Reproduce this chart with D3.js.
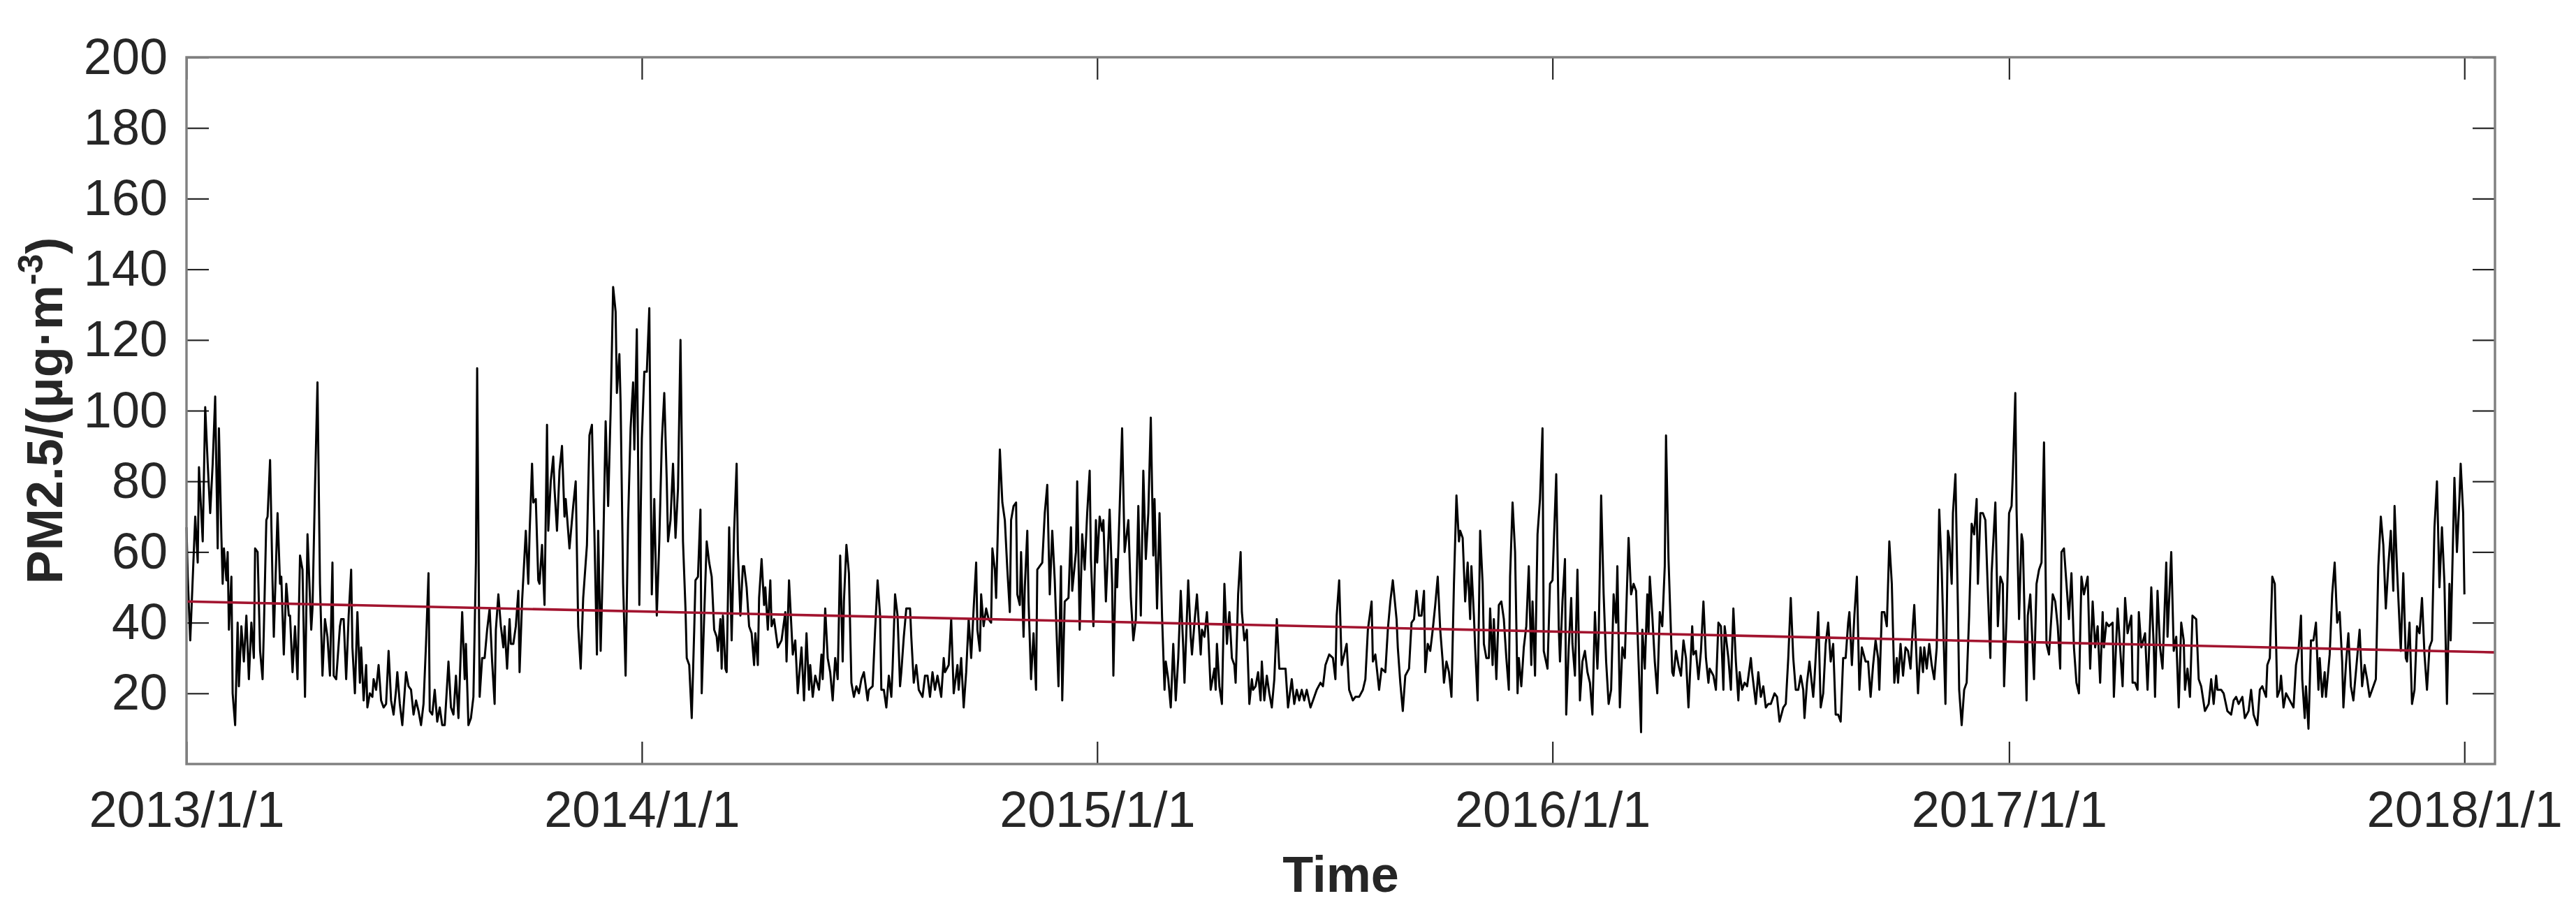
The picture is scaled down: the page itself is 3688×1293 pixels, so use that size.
<!DOCTYPE html>
<html>
<head>
<meta charset="utf-8">
<script src="https://cdn.jsdelivr.net/npm/d3@7"></script>
<style>
  html, body { margin: 0; padding: 0; background: #fff; }
  svg { display: block; font-family: 'Liberation Sans', Arial, sans-serif; }
</style>
</head>
<body>
<script>
// daily PM2.5: [days since 2013/1/1, value]
const startDate = '2013-01-01';
const axisEndDate = '2018-01-25T12:00:00Z';
const yearTicks = ['2013-01-01', '2014-01-01', '2015-01-01', '2016-01-01', '2017-01-01', '2018-01-01'];
const yTicks = [20, 40, 60, 80, 100, 120, 140, 160, 180, 200];
const trendValues = [46.0, 31.6]; // linear fit at the two ends of the time axis

const pm25Daily = [
  [0,67],[1,53],[3,35],[7,70],[9,57],[10,84],[13,63],[15,101],[17,85],[19,71],[21,85],[23,104],[25,61],[26,95],[28,64],[29,51],[30,61],[32,52],[33,60],[34,38],[36,53],[37,20],[39,11],[41,40],[42,22],[44,39],[46,29],[48,42],[50,24],[52,40],[54,30],[55,61],[57,60],[59,32],[61,24],[62,38],[64,69],[65,70],[67,86],[69,51],[70,36],[71,48],[73,71],[75,51],[76,53],[78,31],[80,51],[82,42],[83,42],[85,26],[87,39],[89,24],[91,59],[93,55],[95,19],[97,65],[100,38],[101,44],[103,78],[105,108],[107,51],[109,25],[111,41],[113,36],[115,25],[117,57],[118,25],[120,24],[123,39],[124,41],[126,41],[128,24],[130,42],[132,55],[133,33],[135,20],[137,43],[139,23],[140,33],[142,18],[144,28],[145,16],[147,20],[149,19],[150,24],[152,21],[154,28],[156,18],[158,16],[160,17],[162,32],[164,18],[166,14],[168,21],[169,26],[171,17],[173,11],[176,26],[178,22],[180,21],[182,14],[184,18],[186,15],[188,11],[190,17],[192,34],[194,54],[195,15],[197,14],[199,21],[201,12],[203,16],[205,11],
  [206,11],[207,11],[210,29],[212,16],[214,14],[216,25],[218,13],[219,23],[221,43],[223,24],[224,34],[226,11],[228,13],[230,19],[232,57],[233,112],[235,19],[237,30],[239,30],[241,38],[243,44],[245,29],[247,17],[248,38],[250,48],[252,39],[254,33],[255,39],[257,27],[259,41],[260,34],[262,34],[264,39],[266,49],[267,26],[269,46],[272,66],[274,51],[275,65],[277,85],[278,74],[280,75],[282,52],[283,51],[285,62],[287,45],[289,96],[290,66],[292,80],[294,87],[295,78],[297,66],[299,83],[301,90],[303,70],[304,75],[307,61],[310,73],[312,80],[314,39],[316,27],[318,47],[321,62],[323,93],[325,96],[327,65],[329,31],[330,66],[332,32],[334,60],[336,97],[338,73],[340,100],[342,135],[344,128],[345,105],[347,116],[348,102],[350,51],[352,25],[354,69],[356,95],[358,108],[359,89],[361,123],[362,87],[363,45],[365,92],[367,111],[369,111],[371,129],[372,87],[373,48],[375,75],[377,42],[379,63],[381,91],[383,105],[385,80],[386,63],[388,69],[390,85],[392,64],[394,78],[396,120],[398,63],[400,44],[401,30],[403,28],[405,13],[407,38],[408,52],[410,53],
  [412,72],[413,20],[415,42],[417,63],[419,57],[421,53],[423,38],[425,36],[426,32],[428,41],[429,27],[430,42],[432,27],[433,26],[435,67],[437,35],[439,66],[441,85],[442,60],[444,42],[446,56],[447,56],[449,50],[451,39],[453,37],[455,28],[456,37],[458,28],[459,47],[461,58],[463,45],[464,50],[466,38],[468,52],[469,39],[471,41],[474,33],[477,35],[480,43],[481,29],[483,52],[486,31],[488,35],[490,20],[493,33],[495,18],[497,37],[499,21],[500,28],[502,19],[504,25],[507,21],[509,31],[510,24],[512,44],[514,30],[516,26],[518,18],[520,30],[522,24],[524,59],[526,29],[527,46],[529,62],[531,54],[533,23],[535,19],[537,22],[539,20],[541,24],[543,26],[546,18],[547,21],[550,22],[552,38],[554,52],[556,42],[557,21],[559,21],[561,16],[563,25],[565,19],[566,27],[568,48],[570,42],[572,22],[573,26],[575,36],[577,44],[580,44],[581,36],[583,23],[585,28],[587,21],[590,19],[592,25],[594,25],[596,19],[598,26],[600,21],[602,25],[605,19],[607,30],[608,26],[611,28],[613,41],[615,20],
  [618,28],[619,21],[621,30],[623,16],[625,26],[627,41],[629,30],[631,44],[633,57],[634,38],[636,32],[637,48],[639,39],[641,44],[643,41],[645,40],[646,61],[648,55],[649,47],[652,89],[654,74],[656,69],[658,55],[660,43],[661,69],[663,73],[665,74],[666,48],[668,45],[669,60],[671,36],[672,50],[674,66],[675,46],[677,24],[679,37],[681,21],[682,55],[684,56],[686,57],[688,71],[690,79],[692,48],[694,66],[696,52],[697,42],[699,22],[701,56],[702,18],[704,46],[707,47],[709,67],[710,49],[713,60],[714,80],[716,38],[718,65],[720,55],[722,71],[724,83],[725,58],[727,39],[729,69],[730,57],[732,70],[734,66],[735,69],[737,46],[740,72],[742,51],[743,25],[745,58],[746,50],[748,72],[750,95],[752,60],[755,69],[757,47],[759,35],[761,41],[763,73],[765,42],[767,83],[769,58],[771,71],[773,98],[775,59],[776,75],[778,44],[780,71],[782,42],[784,21],[785,29],[787,24],[789,16],[791,34],[793,18],[795,30],[797,49],[799,33],[800,23],[803,52],[805,36],[806,31],[808,40],[810,48],[813,31],[814,38],[816,36],[818,43],[819,37],[821,21],
  [824,27],[825,21],[826,34],[828,22],[830,17],[832,51],[834,34],[836,43],[838,30],[840,28],[841,23],[843,48],[845,60],[846,43],[848,35],[850,38],[852,17],[854,24],[855,21],[857,22],[859,26],[861,18],[862,29],[864,18],[866,25],[868,20],[870,16],[872,24],[874,41],[876,27],[879,27],[881,27],[883,16],[886,24],[888,17],[890,21],[892,18],[894,21],[896,18],[898,21],[901,16],[903,18],[906,21],[909,23],[911,22],[913,28],[916,31],[919,30],[921,24],[922,42],[924,52],[926,28],[928,31],[930,34],[932,21],[935,18],[937,19],[940,19],[943,21],[945,24],[947,38],[950,46],[951,29],[953,31],[956,21],[958,27],[961,26],[963,38],[965,46],[967,52],[970,41],[971,33],[973,23],[975,15],[977,25],[980,27],[982,40],[984,41],[986,49],[988,42],[990,42],[992,49],[993,26],[995,34],[997,32],[999,38],[1001,45],[1003,53],[1005,38],[1007,29],[1008,23],[1010,29],[1012,26],[1014,19],[1016,51],[1018,76],[1020,63],[1021,66],[1023,64],[1025,46],[1027,57],[1029,41],
  [1030,56],[1032,42],[1033,33],[1035,18],[1037,66],[1039,51],[1040,34],[1042,30],[1044,30],[1045,44],[1047,28],[1048,41],[1050,24],[1052,45],[1054,46],[1056,41],[1058,30],[1060,21],[1061,53],[1063,74],[1065,60],[1067,20],[1068,30],[1070,22],[1072,33],[1074,39],[1076,56],[1078,28],[1079,46],[1081,25],[1083,65],[1085,75],[1087,95],[1088,32],[1091,27],[1093,51],[1095,52],[1098,82],[1100,39],[1101,29],[1103,46],[1105,58],[1106,14],[1108,33],[1110,47],[1111,34],[1113,25],[1115,55],[1117,18],[1119,29],[1121,32],[1123,26],[1125,23],[1127,14],[1129,43],[1131,27],[1132,36],[1134,76],[1136,48],[1138,29],[1140,17],[1142,21],[1144,48],[1146,40],[1147,56],[1149,16],[1151,33],[1153,30],[1154,42],[1156,64],[1158,48],[1160,51],[1162,49],[1164,29],[1166,9],[1167,38],[1169,27],[1171,48],[1172,37],[1173,53],[1175,42],[1177,29],[1179,20],[1181,43],[1183,39],[1185,56],[1186,93],[1188,58],[1191,26],[1192,25],[1194,32],[1196,28],[1198,25],[1200,35],[1202,30],[1204,16],[1207,39],[1208,31],[1210,32],[1212,24],[1214,32],[1216,46],[1218,30],[1220,23],[1221,27],[1224,25],[1226,21],[1228,40],[1230,39],[1232,21],[1233,39],
  [1236,30],[1238,21],[1240,44],[1242,29],[1244,18],[1245,26],[1247,21],[1249,23],[1251,22],[1254,30],[1255,26],[1258,17],[1260,26],[1262,19],[1264,22],[1266,16],[1268,17],[1270,17],[1273,20],[1275,19],[1277,12],[1280,16],[1282,17],[1284,30],[1286,47],[1288,30],[1290,21],[1292,21],[1294,25],[1296,21],[1297,13],[1299,23],[1301,29],[1304,19],[1305,24],[1308,43],[1310,16],[1312,20],[1314,34],[1316,40],[1318,29],[1320,34],[1322,14],[1324,14],[1326,12],[1328,30],[1330,30],[1332,40],[1333,43],[1335,28],[1337,42],[1339,53],[1341,21],[1343,33],[1346,29],[1348,29],[1350,19],[1352,28],[1354,35],[1356,30],[1357,21],[1359,43],[1361,43],[1363,39],[1365,63],[1367,51],[1369,23],[1371,30],[1372,23],[1374,34],[1376,25],[1378,33],[1380,32],[1382,27],[1384,40],[1385,45],[1388,20],[1390,33],[1392,26],[1393,33],[1395,27],[1397,34],[1399,28],[1401,24],[1403,33],[1405,72],[1407,55],[1410,17],[1412,66],[1413,64],[1415,51],[1416,71],[1418,82],[1420,44],[1421,21],[1423,11],[1425,21],[1427,23],[1429,42],[1431,68],[1433,65],[1435,75],[1436,51],[1438,71],[1440,71],
  [1442,69],[1444,49],[1446,30],[1447,54],[1450,74],[1452,39],[1454,53],[1456,51],[1457,22],[1459,42],[1461,71],[1463,73],[1464,82],[1466,105],[1467,72],[1469,41],[1471,65],[1472,63],[1475,18],[1476,42],[1478,48],[1481,24],[1483,51],[1485,55],[1487,57],[1489,91],[1491,34],[1493,31],[1496,48],[1498,46],[1500,39],[1502,27],[1503,60],[1505,61],[1507,51],[1509,41],[1511,54],[1513,33],[1515,23],[1517,20],[1519,53],[1521,48],[1524,53],[1526,27],[1528,46],[1530,33],[1532,39],[1534,23],[1536,43],[1537,33],[1539,40],[1541,39],[1544,40],[1545,19],[1548,44],[1550,33],[1552,22],[1554,47],[1556,37],[1559,42],[1560,23],[1562,23],[1564,21],[1565,43],[1567,33],[1570,37],[1572,21],[1573,30],[1575,50],[1577,33],[1578,19],[1580,49],[1582,33],[1584,27],[1587,57],[1588,36],[1591,60],[1593,32],[1595,36],[1597,16],[1599,40],[1601,35],[1602,21],[1604,27],[1606,19],[1608,42],[1611,41],[1613,24],[1615,22],[1618,15],[1621,17],[1623,24],[1625,17],[1627,25],[1628,21],[1631,21],[1633,20],[1636,15],[1639,14],[1641,18],[1643,19],[1645,17],
  [1648,19],[1650,13],[1653,15],[1655,21],[1657,14],[1660,11],[1662,21],[1664,22],[1667,19],[1668,28],[1670,30],[1672,53],[1674,51],[1676,19],[1678,21],[1679,25],[1681,16],[1683,20],[1686,18],[1689,16],[1691,28],[1693,32],[1695,42],[1696,24],[1698,13],[1699,22],[1701,10],[1703,35],[1705,35],[1707,40],[1709,21],[1710,30],[1712,19],[1714,26],[1715,19],[1718,31],[1720,48],[1722,57],[1724,40],[1726,43],[1728,29],[1729,16],[1731,28],[1733,37],[1735,22],[1737,18],[1739,26],[1742,38],[1744,22],[1746,28],[1748,24],[1750,19],[1752,21],[1755,24],[1757,56],[1759,70],[1761,62],[1763,44],[1765,56],[1767,66],[1769,49],[1770,73],[1772,55],[1775,32],[1777,54],[1779,30],[1780,29],[1782,40],[1784,17],[1786,21],[1788,39],[1790,37],[1792,47],[1794,31],[1796,21],[1798,33],[1800,35],[1802,67],[1804,80],[1806,50],[1808,67],[1810,51],[1812,17],[1814,51],[1815,35],[1818,81],[1820,60],[1822,75],[1823,85],[1825,71],[1826,48]
];

const width = 3688;
const height = 1293;
const margin = { top: 82, right: 116, bottom: 199, left: 267 };
const textColor = '#262626';
const fontSize = 72;

function main() {
  const t0 = new Date(startDate + 'T00:00:00Z');
  const data = pm25Daily.map(([d, v]) => ({ date: d3.utcDay.offset(t0, d), value: v }));

  const svg = d3.select('body').append('svg').attr('width', width).attr('height', height);

  const x = d3
    .scaleUtc()
    .domain([t0, new Date(axisEndDate)])
    .range([margin.left, width - margin.right]);

  const y = d3
    .scaleLinear()
    .domain([0, 200])
    .range([height - margin.bottom, margin.top]);

  createAxes(svg, x, y);

  svg
    .append('path')
    .datum(data)
    .attr('fill', 'none')
    .attr('stroke', '#000')
    .attr('stroke-width', 3)
    .attr('stroke-linejoin', 'round')
    .attr('d', d3.line().x(d => x(d.date)).y(d => y(d.value)));

  const trend = x.domain().map((date, i) => ({ date, value: trendValues[i] }));
  svg
    .append('path')
    .datum(trend)
    .attr('fill', 'none')
    .attr('stroke', '#A2142F')
    .attr('stroke-width', 3.6)
    .attr('d', d3.line().x(d => x(d.date)).y(d => y(d.value)));

  // axes box
  svg
    .append('rect')
    .attr('x', margin.left)
    .attr('y', margin.top)
    .attr('width', width - margin.left - margin.right)
    .attr('height', height - margin.top - margin.bottom)
    .attr('fill', 'none')
    .attr('stroke', '#7f7f7f')
    .attr('stroke-width', 3.4);

  createLabels(svg);
}

function styleAxis(g) {
  g.select('.domain').remove();
  g.selectAll('.tick line').attr('stroke', textColor).attr('stroke-width', 2.2);
  g.selectAll('.tick text').attr('fill', textColor).attr('font-size', fontSize).attr('font-family', null);
}

function createAxes(svg, x, y) {
  const yearDates = yearTicks.map(s => new Date(s + 'T00:00:00Z'));
  const bottom = height - margin.bottom;
  const right = width - margin.right;

  svg
    .append('g')
    .attr('transform', `translate(0, ${bottom})`)
    .call(d3.axisBottom(x).tickValues(yearDates).tickFormat(d3.utcFormat('%Y/%-m/%-d')).tickSizeInner(-32).tickSizeOuter(0).tickPadding(39))
    .call(styleAxis);

  svg
    .append('g')
    .attr('transform', `translate(0, ${margin.top})`)
    .call(d3.axisTop(x).tickValues(yearDates).tickFormat('').tickSizeInner(-32).tickSizeOuter(0))
    .call(styleAxis);

  svg
    .append('g')
    .attr('transform', `translate(${margin.left}, 0)`)
    .call(d3.axisLeft(y).tickValues(yTicks).tickSizeInner(-32).tickSizeOuter(0).tickPadding(27))
    .call(styleAxis);

  svg
    .append('g')
    .attr('transform', `translate(${right}, 0)`)
    .call(d3.axisRight(y).tickValues(yTicks).tickFormat('').tickSizeInner(-32).tickSizeOuter(0))
    .call(styleAxis);
}

function createLabels(svg) {
  const cx = (margin.left + width - margin.right) / 2;
  const cy = (margin.top + height - margin.bottom) / 2;

  svg
    .append('text')
    .attr('x', cx)
    .attr('y', 1277)
    .attr('text-anchor', 'middle')
    .attr('font-size', fontSize)
    .attr('font-weight', 'bold')
    .attr('fill', textColor)
    .text('Time');

  const ylab = svg
    .append('text')
    .attr('transform', `translate(89, ${cy}) rotate(-90)`)
    .attr('text-anchor', 'middle')
    .attr('font-size', fontSize)
    .attr('font-weight', 'bold')
    .attr('fill', textColor);

  ylab.append('tspan').text('PM2.5/(μg·m');
  ylab.append('tspan').attr('font-size', 50).attr('dy', -28).text('-3');
  ylab.append('tspan').attr('dy', 28).text(')');
}

main();
</script>
</body>
</html>
